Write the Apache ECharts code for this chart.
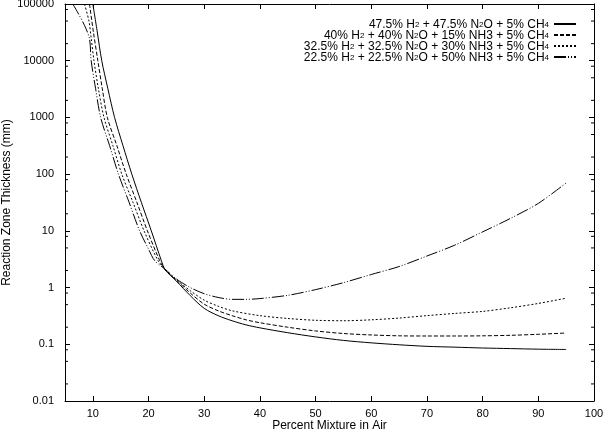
<!DOCTYPE html>
<html><head><meta charset="utf-8">
<script src="https://cdn.jsdelivr.net/npm/echarts@6/dist/echarts.min.js"></script>
<style>html,body{margin:0;padding:0;background:#fff}#c{width:603px;height:431px}</style>
</head><body><div id="c"></div>
<script>
const FONT = '"Liberation Sans", Arial, sans-serif';

const seriesNames = [
  '47.5% H2 + 47.5% N2O + 5% CH4',
  '40% H2 + 40% N2O + 15% NH3 + 5% CH4',
  '32.5% H2 + 32.5% N2O + 30% NH3 + 5% CH4',
  '22.5% H2 + 22.5% N2O + 50% NH3 + 5% CH4'
];
const legendRich = [
  '{n|47.5% H}{s|2}{n| + 47.5% N}{s|2}{n|O + 5% CH}{s|4}',
  '{n|40% H}{s|2}{n| + 40% N}{s|2}{n|O + 15% NH3 + 5% CH}{s|4}',
  '{n|32.5% H}{s|2}{n| + 32.5% N}{s|2}{n|O + 30% NH3 + 5% CH}{s|4}',
  '{n|22.5% H}{s|2}{n| + 22.5% N}{s|2}{n|O + 50% NH3 + 5% CH}{s|4}'
];

const s1X = [10, 10.8, 11.6, 12.7, 13.9, 15.4, 17.0, 18.7, 20.5, 22.3, 23, 25, 27.5, 30, 32.5, 35, 37.5, 40, 45, 50, 55, 60, 65, 70, 75, 80, 85, 90, 95];
const s1Y = [100000, 32000, 10000, 3200, 1000, 320, 100, 32, 10, 3, 2.05, 1.3, 0.72, 0.43, 0.32, 0.26, 0.22, 0.195, 0.16, 0.135, 0.117, 0.106, 0.098, 0.092, 0.089, 0.086, 0.084, 0.082, 0.081];

const s2X = [9.4, 10.1, 10.9, 11.7, 12.6, 14.3, 16.0, 17.9, 19.8, 22.0, 23, 25, 27.5, 30, 32.5, 35, 37.5, 40, 45, 50, 55, 60, 65, 70, 75, 80, 85, 90, 95];
const s2Y = [100000, 32000, 10000, 3200, 1000, 320, 100, 32, 10, 3, 2.05, 1.35, 0.8, 0.51, 0.39, 0.32, 0.27, 0.24, 0.2, 0.172, 0.155, 0.146, 0.141, 0.14, 0.14, 0.141, 0.144, 0.15, 0.158];

const s3X = [8.5, 9.3, 9.7, 10.2, 11.0, 12.0, 13.6, 15.2, 17.2, 19.2, 21.7, 23, 25, 27.5, 30, 32.5, 35, 40, 45, 50, 55, 60, 65, 70, 75, 80, 85, 90, 95];
const s3Y = [100000, 50000, 25000, 10000, 3200, 1000, 320, 100, 32, 10, 3, 2.1, 1.38, 0.88, 0.6, 0.47, 0.39, 0.32, 0.285, 0.265, 0.26, 0.27, 0.29, 0.32, 0.35, 0.38, 0.44, 0.525, 0.65];

const s4X = [6.4, 7.5, 8.5, 9.4, 9.7, 10.5, 11.4, 13.0, 14.6, 16.5, 18.4, 19.9, 21.1, 23, 25, 27.5, 30, 32.5, 35, 37.5, 40, 45, 50, 55, 60, 65, 70, 75, 80, 85, 90, 95];
const s4Y = [100000, 65000, 42000, 24500, 10000, 3200, 1000, 320, 100, 32, 10, 5, 3, 2.1, 1.42, 1.0, 0.78, 0.67, 0.62, 0.62, 0.64, 0.73, 0.92, 1.22, 1.7, 2.35, 3.6, 5.6, 9.6, 16.6, 30.5, 70];

const xMin = 5, xMax = 100;
const yMin = 0.01, yMax = 100000;
const yDecades = [0.01, 0.1, 1, 10, 100, 1000, 10000];
const minorMultipliers = [2, 5, 8];

const dashes = ['solid', [4, 2], [2, 2], [12, 2, 1, 2, 1, 2]];

function pairs(xs, ys) { return xs.map((x, i) => [x, ys[i]]); }
const seriesData = [pairs(s1X, s1Y), pairs(s2X, s2Y), pairs(s3X, s3Y), pairs(s4X, s4Y)];

const minorVals = [];
yDecades.forEach(d => minorMultipliers.forEach(m => minorVals.push([xMin, +(d * m).toPrecision(6)])));

function fmtY(v) {
  if (v >= 1) return String(Math.round(v));
  return String(parseFloat(v.toPrecision(6)));
}

const axisCommon = {
  axisLine: { show: true, onZero: false, lineStyle: { color: '#000', width: 1 } },
  axisTick: { show: true, inside: true, length: 5, lineStyle: { color: '#000', width: 1 } },
  splitLine: { show: false },
};

const chart = echarts.init(document.getElementById('c'), null, { renderer: 'canvas' });
chart.setOption({
  animation: false,
  backgroundColor: '#fff',
  textStyle: { fontFamily: FONT, color: '#000' },
  grid: { left: 65, right: 9, top: 4, bottom: 30, containLabel: false, outerBoundsMode: 'none' },
  legend: {
    data: seriesNames,
    orient: 'vertical',
    right: 21,
    top: 12,
    align: 'right',
    itemWidth: 22,
    itemHeight: 8,
    itemGap: -3,
    itemStyle: { color: 'rgba(0,0,0,0)', borderWidth: 0, opacity: 0 },
    formatter: name => legendRich[seriesNames.indexOf(name)],
    textStyle: {
      width: 240, align: 'right', color: '#000', fontFamily: FONT,
      rich: {
        n: { fontSize: 12, lineHeight: 10, fontFamily: FONT, color: '#000', verticalAlign: 'top' },
        s: { fontSize: 8, lineHeight: 7, fontFamily: FONT, color: '#000', padding: [4, 0, 0, 0], verticalAlign: 'bottom' }
      }
    },
    selectedMode: false
  },
  xAxis: [
    Object.assign({}, axisCommon, {
      type: 'value', min: xMin, max: xMax, splitNumber: 10, minInterval: 10, maxInterval: 10, position: 'bottom',
      axisLabel: { color: '#000', fontSize: 11, fontFamily: FONT, margin: 7, formatter: v => (v % 10 === 0 ? String(v) : '') },
      name: 'Percent Mixture in Air', nameLocation: 'middle', nameGap: 19, nameMoveOverlap: false,
      nameTextStyle: { fontSize: 12, color: '#000', fontFamily: FONT }
    }),
    Object.assign({}, axisCommon, {
      type: 'value', min: xMin, max: xMax, splitNumber: 10, minInterval: 10, maxInterval: 10, position: 'top',
      axisLabel: { show: false }
    })
  ],
  yAxis: [
    Object.assign({}, axisCommon, {
      type: 'log', logBase: 10, min: yMin, max: yMax, position: 'left',
      axisLabel: { color: '#000', fontSize: 11, fontFamily: FONT, margin: 11, formatter: fmtY },
      name: 'Reaction Zone Thickness (mm)', nameLocation: 'middle', nameGap: 52, nameRotate: 90, nameMoveOverlap: false,
      nameTextStyle: { fontSize: 12, color: '#000', fontFamily: FONT }
    }),
    Object.assign({}, axisCommon, {
      type: 'log', logBase: 10, min: yMin, max: yMax, position: 'right',
      axisLabel: { show: false }
    })
  ],
  series: seriesNames.map((name, i) => ({
    name, type: 'line', xAxisIndex: 0, yAxisIndex: 0,
    data: seriesData[i], smooth: 0.3, symbol: 'none', showSymbol: false,
    lineStyle: { color: '#000', width: 1, type: dashes[i] },
    itemStyle: { color: '#000' },
    clip: true, silent: true
  })).concat([{
    type: 'custom', xAxisIndex: 0, yAxisIndex: 0, silent: true, clip: false,
    data: minorVals,
    renderItem: (params, api) => {
      const cs = params.coordSys;
      const y = api.coord([api.value(0), api.value(1)])[1];
      return { type: 'group', children: [
        { type: 'line', shape: { x1: cs.x, y1: y, x2: cs.x + 3, y2: y }, style: { stroke: '#000', lineWidth: 1 } },
        { type: 'line', shape: { x1: cs.x + cs.width - 3, y1: y, x2: cs.x + cs.width, y2: y }, style: { stroke: '#000', lineWidth: 1 } }
      ]};
    }
  }])
});
</script></body></html>
